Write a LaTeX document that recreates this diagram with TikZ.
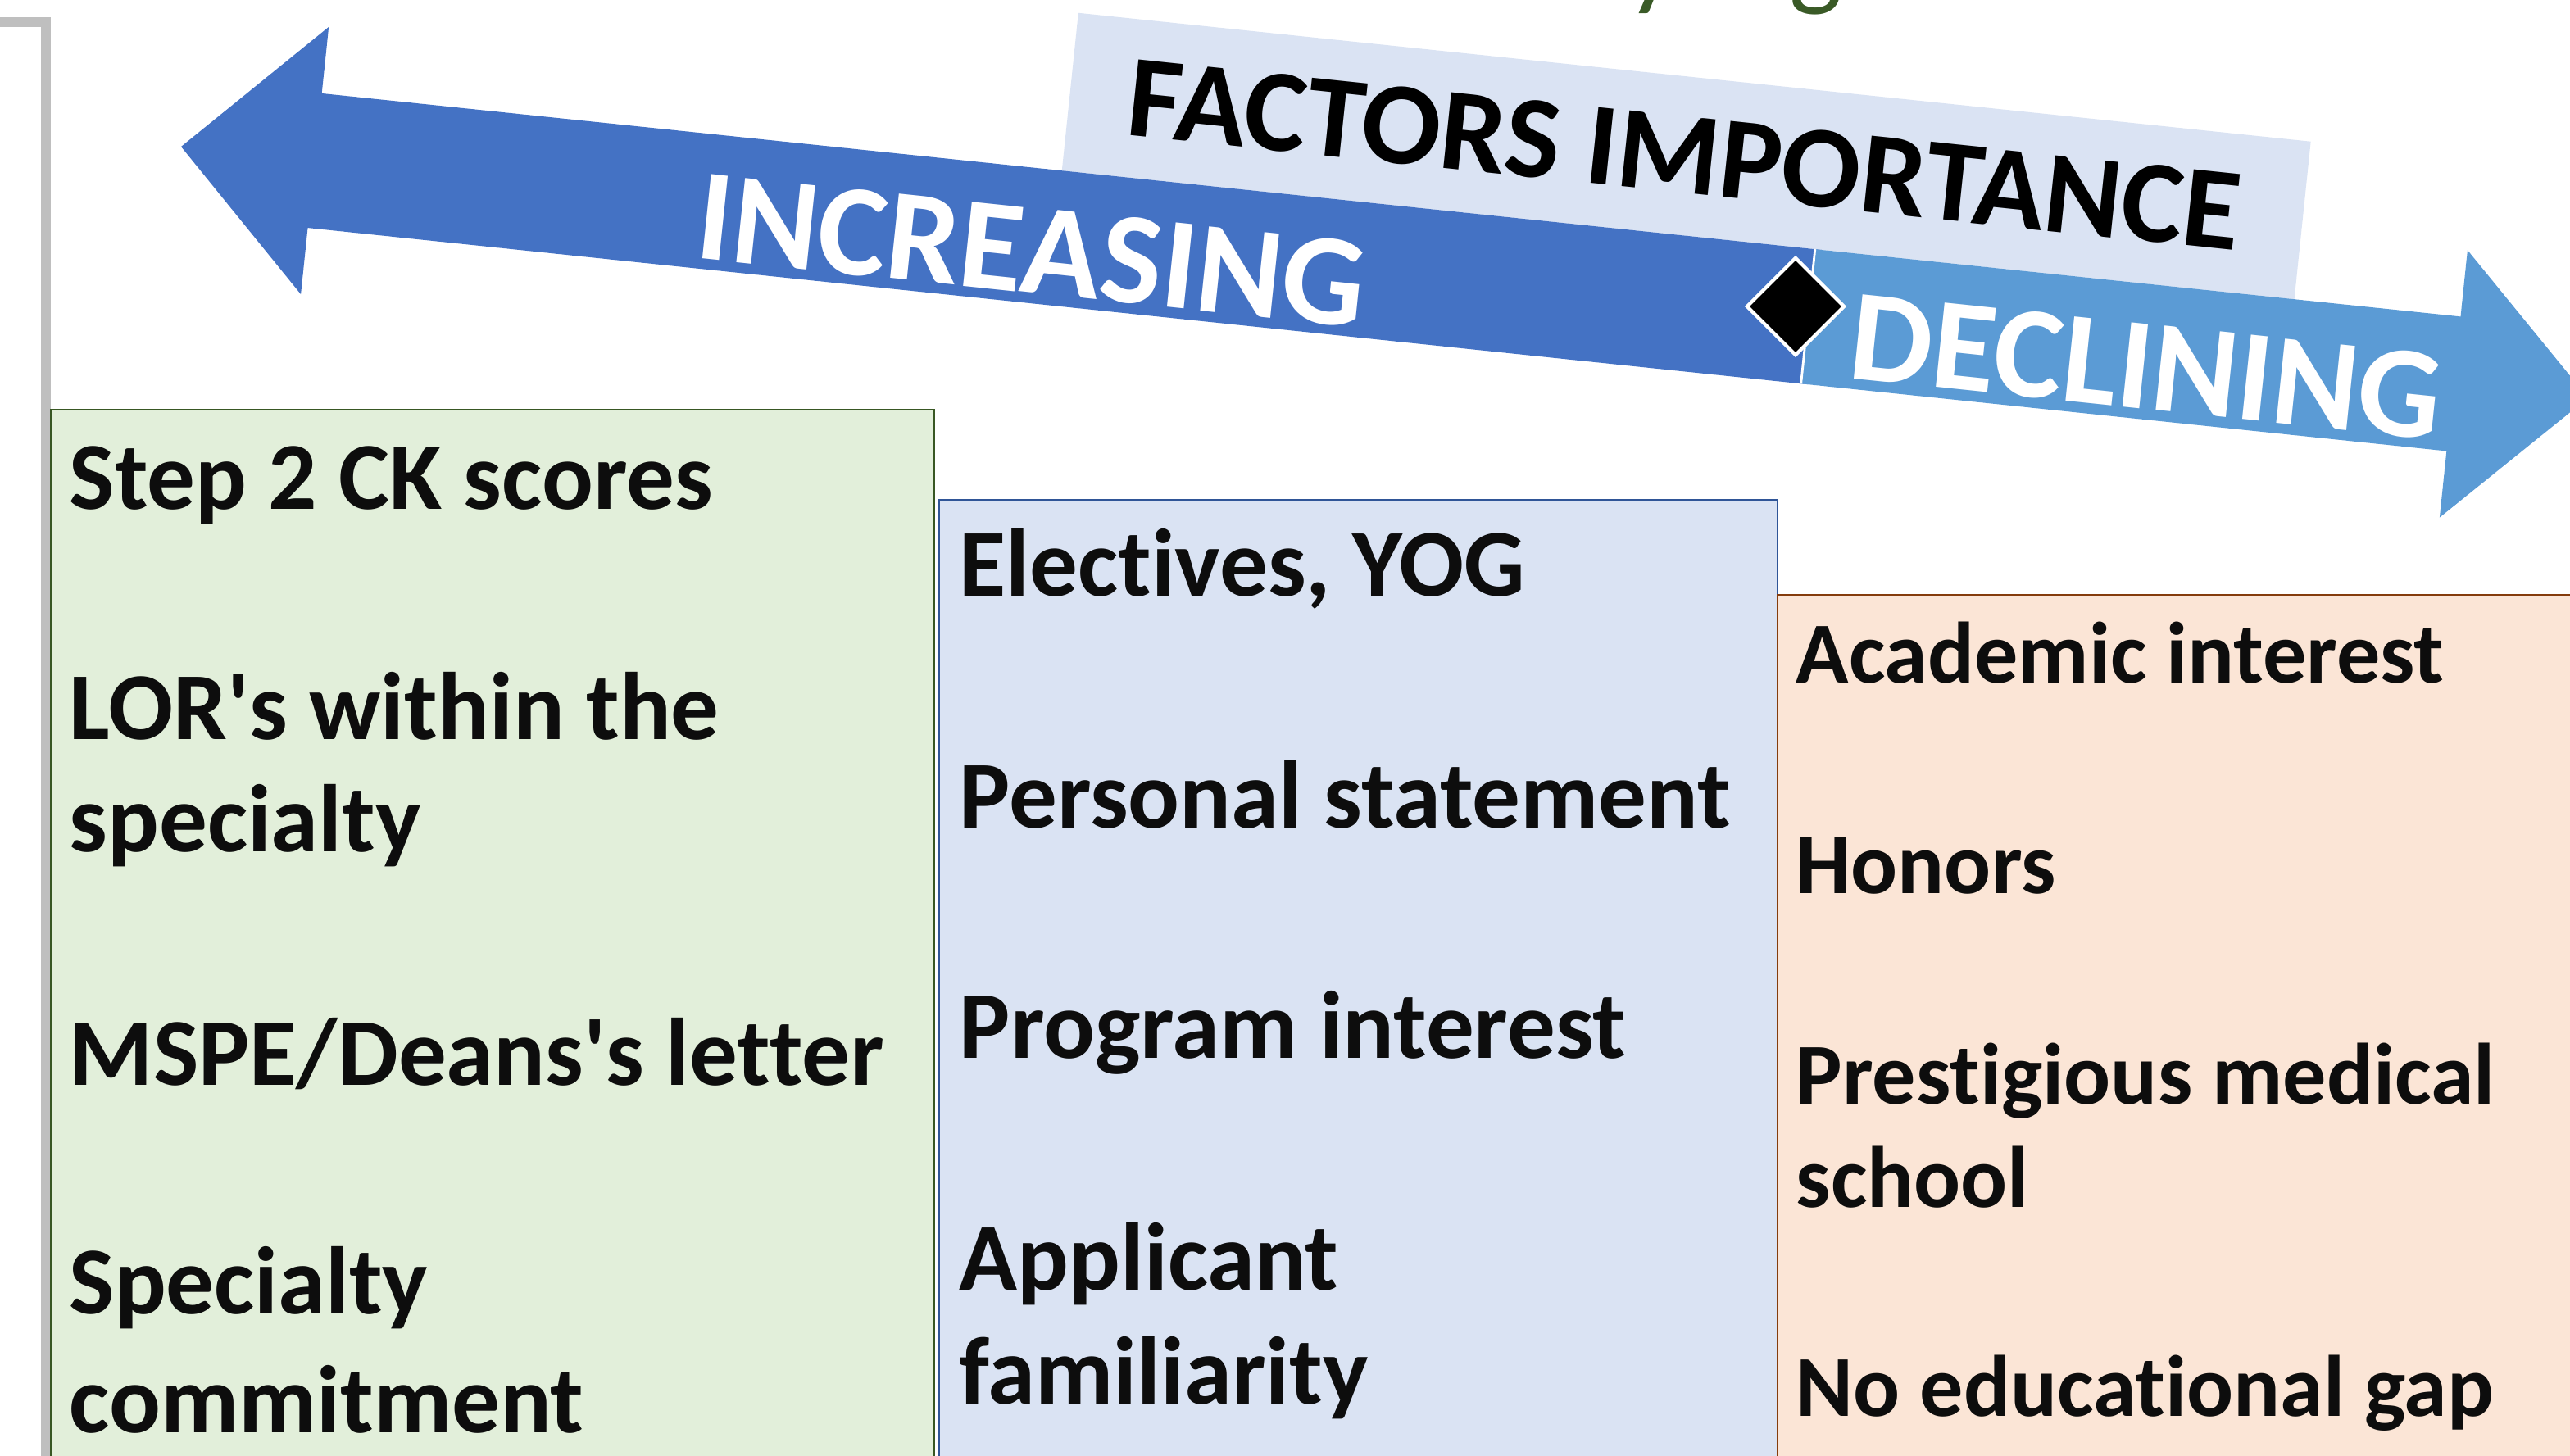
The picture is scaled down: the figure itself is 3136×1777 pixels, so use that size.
\documentclass[tikz,border=0pt]{standalone}
\usepackage{fontspec}
\setmainfont{Carlito}[Ligatures=NoCommon]
\usetikzlibrary{shapes.geometric,positioning}
\definecolor{darkarrow}{HTML}{4472C4}
\definecolor{lightarrow}{HTML}{5B9BD5}
\definecolor{paleblue}{HTML}{DAE3F3}
\definecolor{palegreen}{HTML}{E2EFDA}
\definecolor{paleorange}{HTML}{FBE5D6}
\definecolor{edgegreen}{HTML}{385723}
\definecolor{edgeblue}{HTML}{2F5597}
\definecolor{edgeorange}{HTML}{843C0C}
\definecolor{titlegreen}{HTML}{3A5A27}
\definecolor{ink}{HTML}{0D0D0D}

\begin{document}
\begin{tikzpicture}[x=0.01cm,y=-0.01cm,
  item/.style={anchor=base west,inner sep=0pt,text=ink,font=\fontsize{33.3}{40}\selectfont\bfseries},
  smallitem/.style={item,font=\fontsize{30.2}{36}\selectfont\bfseries},
  arrowtext/.style={anchor=base west,inner sep=0pt,text=white,rotate=-5.96,font=\fontsize{45.3}{52}\selectfont\bfseries}]
\useasboundingbox (0,0) rectangle (3136,1777);
\clip (0,0) rectangle (3136,1777);
%
% cut-off title and side bracket
\node[anchor=base west,inner sep=0pt,text=titlegreen,font=\fontsize{39}{46}\selectfont] (title) at (1985,-5) {y\hspace{0.99em}g};
\draw[color=black!25,line width=0.12cm] (-10,27) -| (56,1800);
%
% the three columns
\draw[fill=palegreen,draw=edgegreen,line width=0.7pt] (62,500) rectangle (1140,1800);
\draw[fill=paleblue,draw=edgeblue,line width=0.6pt] (1146,610) rectangle (2169,1800);
\draw[fill=paleorange,draw=edgeorange,line width=0.6pt] (2169,726) rectangle (3160,1800);
%
\foreach \y/\t [count=\i] in {622/{Step 2 CK scores},903/{LOR\textquotesingle s within the},1040/specialty,1325/{MSPE/Deans\textquotesingle s letter},1603/Specialty,1748/commitment}
  \node[item] (grn\i) at (84,\y) {\t};
\foreach \y/\t [count=\i] in {728/{Electives, YOG},1011/{Personal statement},1292/{Program interest},1574/Applicant,1713/familiarity}
  \node[item] (blu\i) at (1170,\y) {\t};
\foreach \y/\t [count=\i] in {834/{Academic interest},1091/Honors,1347/{Prestigious medical},1473/school,1728/{No educational gap}}
  \node[smallitem] (org\i) at (2191,\y) {\t};
%
% the tilted double arrow
\begin{scope}[shift={(221,179)},rotate=-5.96]
\fill[paleblue] (1072,-276) rectangle (2584,-82.5);
\fill[darkarrow] (0,0) -- (164,-164) -- (164,-82.5) -- (2006,-82.5) -- (2006,82.5) -- (164,82.5) -- (164,164) -- cycle;
\fill[lightarrow] (1996,-82.5) -- (2788,-82.5) -- (2788,-164) -- (2953,0) -- (2788,164) -- (2788,82.5) -- (1996,82.5) -- cycle;
\draw[white,line width=0.8pt] (1996,-82.5) -- (1996,82.5);
\node[anchor=base,inner sep=0pt,rotate=-5.96,font=\fontsize{40.7}{46}\selectfont\bfseries] (importance) at (1826,-134) {FACTORS IMPORTANCE};
\node[arrowtext] (increasing) at (636,70) {INCREASING};
\node[arrowtext] (declining) at (2050,70) {DECLINING};
\end{scope}
\node[diamond,aspect=1,fill=black,draw=white,line width=1.2pt,inner sep=0pt,minimum size=1.2cm] (pivot) at (2191,374) {};
\end{tikzpicture}
\end{document}
